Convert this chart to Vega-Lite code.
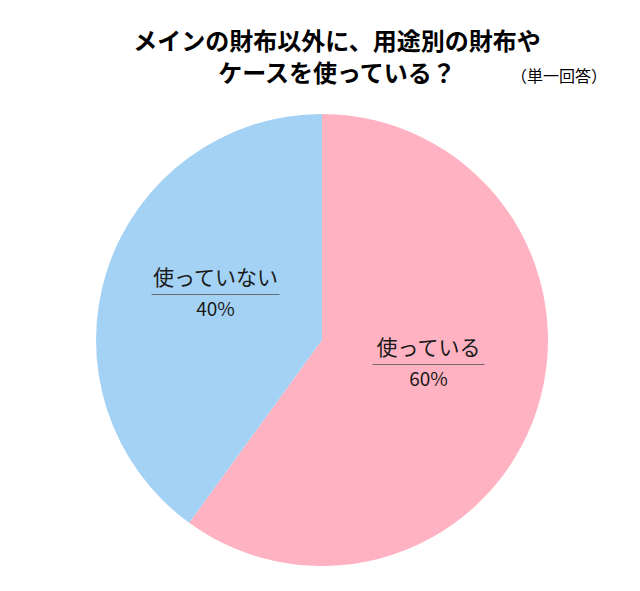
{
  "$schema": "https://vega.github.io/schema/vega-lite/v6.json",
  "autosize": "none",
  "width": 460,
  "height": 460,
  "padding": {"left": 92, "top": 110, "right": 88, "bottom": 21},
  "background": "white",
  "title": {
    "text": ["メインの財布以外に、用途別の財布や", "ケースを使っている？"],
    "subtitle": "⠀⠀⠀⠀⠀⠀⠀⠀⠀⠀⠀⠀⠀⠀⠀⠀⠀⠀⠀⠀⠀⠀⠀⠀⠀⠀⠀⠀⠀⠀⠀⠀⠀⠀⠀⠀⠀（単一回答）",
    "anchor": "middle",
    "dx": 15,
    "font": "Noto Sans CJK JP",
    "fontSize": 24,
    "fontWeight": "bold",
    "lineHeight": 32,
    "color": "#000000",
    "subtitleFont": "Noto Sans CJK JP",
    "subtitleFontSize": 16,
    "subtitleColor": "#000000",
    "subtitlePadding": -18,
    "offset": 23
  },
  "data": {
    "values": [
      {"answer": "使っている", "percent": 60, "rank": 1, "label": "60%"},
      {"answer": "使っていない", "percent": 40, "rank": 2, "label": "40%"}
    ]
  },
  "encoding": {
    "theta": {"field": "percent", "type": "quantitative", "stack": true},
    "order": {"field": "rank", "type": "quantitative"}
  },
  "layer": [
    {
      "mark": {"type": "arc", "radius": 226},
      "encoding": {
        "color": {
          "field": "answer",
          "type": "nominal",
          "scale": {"domain": ["使っている", "使っていない"], "range": ["#FFB3C2", "#A4D2F4"]},
          "legend": null
        }
      }
    },
    {
      "mark": {"type": "text", "radius": 112, "dy": -26, "fontSize": 21, "font": "Noto Sans CJK JP", "color": "#1a1a1a"},
      "encoding": {"text": {"field": "answer", "type": "nominal"}}
    },
    {
      "mark": {"type": "text", "radius": 112, "dy": 5, "fontSize": 19, "font": "Noto Sans CJK JP", "color": "#1a1a1a"},
      "encoding": {"text": {"field": "label", "type": "nominal"}}
    },
    {
      "mark": {"type": "text", "radius": 112, "dy": -10, "fontSize": 16, "font": "Noto Sans CJK JP", "color": "#555555"},
      "encoding": {
        "text": {"condition": {"test": "datum.rank == 1", "value": "───────"}, "value": "────────"}
      }
    }
  ]
}
